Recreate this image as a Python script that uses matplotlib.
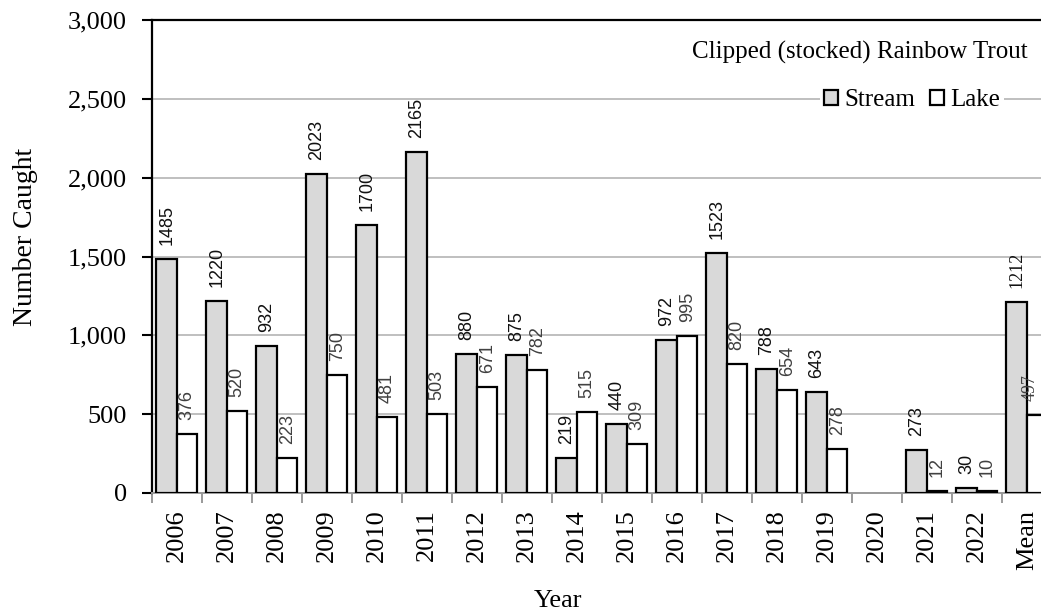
import numpy as np
import matplotlib
matplotlib.use('Agg')
import matplotlib.pyplot as plt
from matplotlib.ticker import FuncFormatter, FixedLocator

plt.rcParams['font.family'] = ['Liberation Serif', 'DejaVu Serif']

# Datos (2020 sin muestreo)
years = ['2006', '2007', '2008', '2009', '2010', '2011', '2012', '2013', '2014',
         '2015', '2016', '2017', '2018', '2019', '2020', '2021', '2022', 'Mean']
stream = [1485, 1220, 932, 2023, 1700, 2165, 880, 875, 219,
          440, 972, 1523, 788, 643, np.nan, 273, 30, 1212]
lake = [376, 520, 223, 750, 481, 503, 671, 782, 515,
        309, 995, 820, 654, 278, np.nan, 12, 10, 497]

x = np.arange(len(years))
w = 0.41

fig = plt.figure(figsize=(10.41, 6.13), dpi=100)
ax = fig.add_axes([0.146, 0.196, 0.854, 0.771])

ax.bar(x - w / 2, stream, w, color='#d9d9d9', edgecolor='black', linewidth=1.6,
       label='Stream', zorder=3)
ax.bar(x + w / 2, lake, w, color='white', edgecolor='black', linewidth=1.6,
       label='Lake', zorder=3)

# etiquetas de valor
for i in range(len(years)):
    if np.isnan(stream[i]):
        continue
    dx = 0
    if years[i] == 'Mean':
        fam, sz = 'Liberation Serif', 13
        dx = -5  # la barra queda cortada en el borde
    else:
        fam, sz = 'Liberation Sans', 13
    ax.annotate(f'{int(stream[i])}', (x[i] - w / 2, stream[i]), xytext=(0, 10),
                textcoords='offset points', rotation=90, ha='center', va='bottom',
                fontsize=sz, family=fam, color='#111111', zorder=4)
    ax.annotate(f'{int(lake[i])}', (x[i] + w / 2, lake[i]), xytext=(dx, 10),
                textcoords='offset points', rotation=90, ha='center', va='bottom',
                fontsize=sz, family=fam, color='#404040', zorder=4)

ax.set_ylim(0, 3000)
ax.set_xlim(-0.5, 17.28)
ax.set_yticks(np.arange(0, 3001, 500))
ax.yaxis.set_major_formatter(FuncFormatter(lambda v, p: f'{int(v):,}'))
ax.yaxis.grid(True, color='#bfbfbf', linewidth=1.4, zorder=0)
ax.set_axisbelow(True)

ax.set_xticks(x)
ax.set_xticklabels(years, rotation=90, fontsize=19)
ax.xaxis.set_minor_locator(FixedLocator(np.arange(-0.5, len(years), 1)))
ax.tick_params(axis='x', which='major', length=0, pad=12)
ax.tick_params(axis='x', which='minor', length=7, width=1.4, color='#999999')
ax.tick_params(axis='y', length=7, width=1.5, color='black', labelsize=19, pad=11)

for s in ['left', 'top']:
    ax.spines[s].set_linewidth(1.6)
    ax.spines[s].set_color('black')
ax.spines['right'].set_visible(False)
ax.spines['bottom'].set_color('#999999')
ax.spines['bottom'].set_linewidth(1.4)

ax.set_ylabel('Number Caught', fontsize=20)
ax.yaxis.set_label_coords(-0.128, 0.541)
ax.set_xlabel('Year', fontsize=19)
ax.xaxis.set_label_coords(0.457, -0.205)

ax.text(0.985, 0.932, 'Clipped (stocked) Rainbow Trout', transform=ax.transAxes,
        ha='right', va='center', fontsize=18)

leg = ax.legend(loc='center right', bbox_to_anchor=(0.958, 0.831), ncol=2,
                fontsize=18, frameon=True, handlelength=0.55, handleheight=0.55,
                handletextpad=0.25, columnspacing=0.6, borderpad=0.15,
                borderaxespad=0)
leg.get_frame().set_facecolor('white')
leg.get_frame().set_edgecolor('none')
leg.get_frame().set_alpha(1)
leg.set_zorder(5)

fig.savefig('out.png', dpi=100)
